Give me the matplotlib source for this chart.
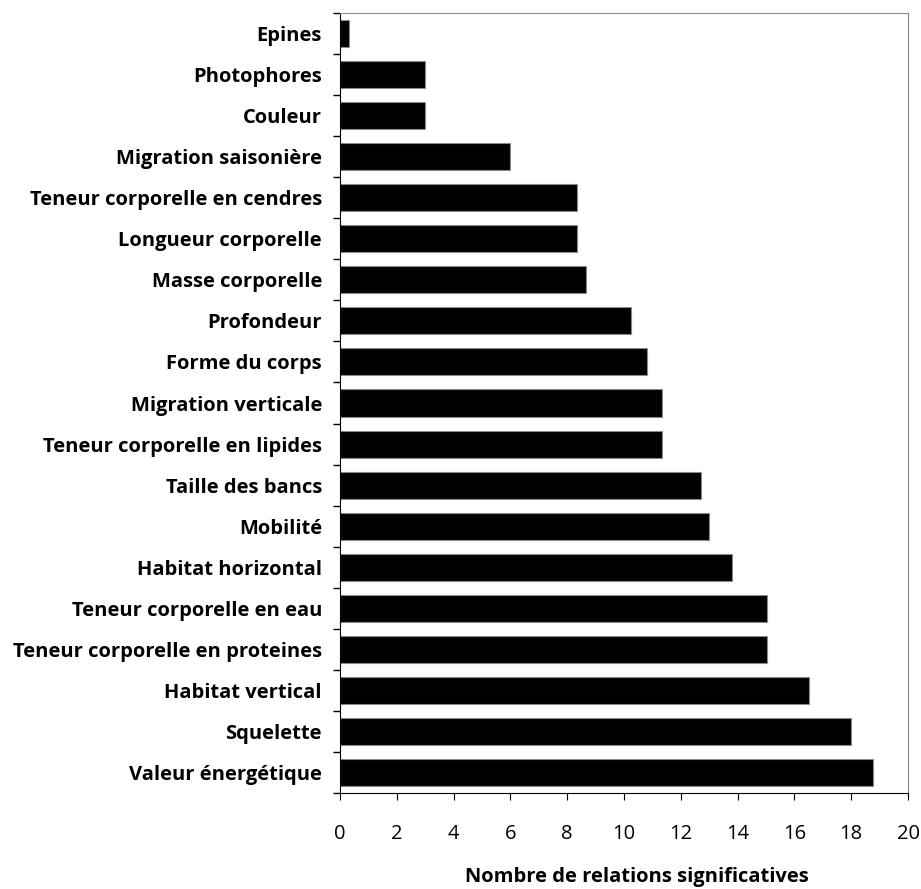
import numpy as np
import matplotlib.pyplot as plt
from matplotlib.ticker import FixedLocator

# categories, listed from top to bottom as in the chart
labels = [
    "Epines", "Photophores", "Couleur", "Migration saisonière",
    "Teneur corporelle en cendres", "Longueur corporelle", "Masse corporelle",
    "Profondeur", "Forme du corps", "Migration verticale",
    "Teneur corporelle en lipides", "Taille des bancs", "Mobilité",
    "Habitat horizontal", "Teneur corporelle en eau",
    "Teneur corporelle en proteines", "Habitat vertical", "Squelette",
    "Valeur énergétique",
]
values = [0.33, 3.0, 3.0, 6.0, 8.33, 8.33, 8.67, 10.25, 10.8, 11.33,
          11.33, 12.7, 13.0, 13.8, 15.05, 15.05, 16.5, 18.0, 18.75]
xticks = [0, 2, 4, 6, 8, 10, 12, 14, 16, 18, 20]

plt.rcParams['font.family'] = ['Open Sans', 'DejaVu Sans']
plt.rcParams['xtick.major.pad'] = 17
plt.rcParams['xtick.major.size'] = 5
plt.rcParams['ytick.minor.size'] = 5

fig = plt.figure(figsize=(9.21, 8.89), dpi=100)
ax = fig.add_axes([340/921, 1-793/889, (908-340)/921, (793-13)/889])

y = np.arange(len(labels))
ax.barh(y, values, height=0.66, color='black', edgecolor='#8a8a8a', linewidth=0.8)

ax.set_xlim(0, 20)
ax.set_ylim(len(labels)-0.5, -0.5)
ax.set_xticks(xticks)
ax.set_xticklabels([str(t) for t in xticks], fontsize=14.5)
ax.set_yticks(y)
ax.set_yticklabels(labels, fontsize=14.5, fontweight='bold')

# tick marks sit between categories
ax.yaxis.set_minor_locator(FixedLocator(np.arange(-0.5, len(labels), 1)))
ax.tick_params(axis='y', which='major', length=0, pad=13)
ax.tick_params(axis='y', which='minor', length=5, width=1, color='black', direction='out')

for s in ['top', 'right']:
    ax.spines[s].set_color('#8a8a8a')
for s in ['left', 'bottom']:
    ax.spines[s].set_color('black')

fig.text(637/921, 1-877/889, "Nombre de relations significatives",
         ha='center', va='center', fontsize=14.5, fontweight='bold')

fig.savefig("out.png", dpi=100)
